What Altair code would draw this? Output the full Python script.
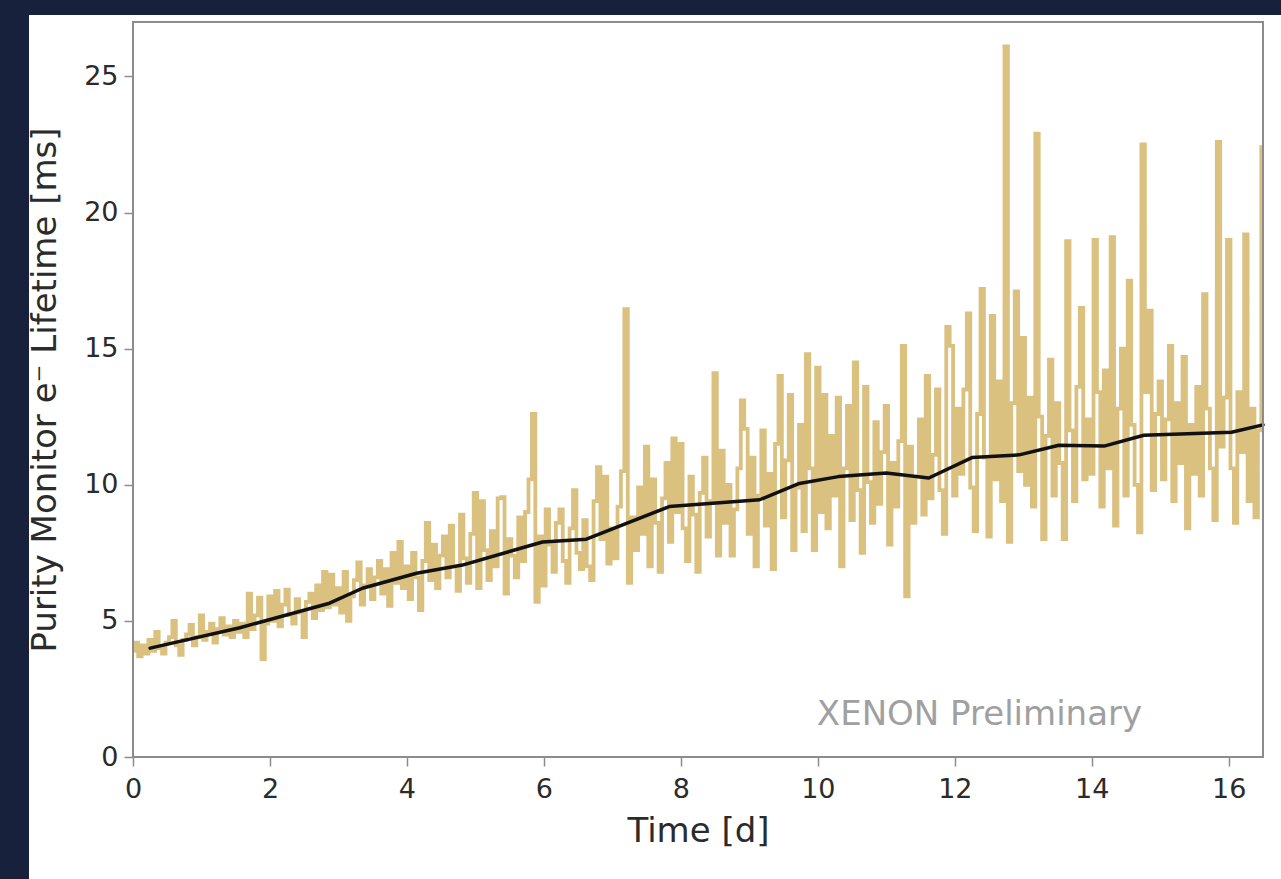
import altair as alt
import pandas as pd

# ---- data ----
# sampling offsets within each day (20 samples per day)
day_offsets = [0.00, 0.05, 0.10, 0.15, 0.20, 0.25, 0.30, 0.35, 0.40, 0.45,
               0.50, 0.55, 0.60, 0.65, 0.70, 0.75, 0.80, 0.85, 0.90, 0.95]

# purity monitor electron lifetime [ms], one row per day
lifetime_by_day = [
    [3.9, 4.2, 3.7, 4.1, 3.8, 4.3, 3.9, 4.6, 4.0, 3.8, 4.2, 4.4, 5.0, 4.1, 3.75, 4.3, 4.5, 4.85, 4.1, 4.4],
    [5.2, 4.3, 4.6, 4.9, 4.2, 4.7, 5.1, 4.5, 4.8, 4.4, 5.0, 4.6, 4.9, 4.4, 6.0, 4.7, 5.2, 5.85, 3.6, 4.9],
    [5.9, 5.0, 6.1, 4.8, 5.6, 6.15, 5.2, 4.9, 5.8, 5.3, 4.4, 5.7, 6.0, 5.1, 6.3, 5.4, 6.8, 5.5, 6.7, 5.6],
    [6.2, 5.3, 6.8, 5.0, 5.9, 6.5, 7.15, 5.6, 6.3, 6.9, 5.8, 6.6, 7.2, 6.0, 6.9, 5.55, 7.5, 6.4, 7.9, 6.2],
    [7.0, 5.8, 7.5, 6.6, 5.4, 7.2, 8.6, 6.5, 7.8, 6.2, 7.4, 8.1, 6.6, 8.5, 7.0, 6.1, 8.9, 7.3, 6.4, 8.2],
    [9.7, 6.2, 9.4, 7.6, 6.5, 8.3, 7.0, 9.5, 9.55, 6.0, 8.0, 7.4, 6.6, 8.8, 7.2, 9.0, 10.2, 12.6, 5.7, 8.1],
    [6.3, 9.1, 7.8, 6.8, 8.6, 9.1, 7.2, 6.4, 8.4, 9.8, 7.5, 6.9, 8.7, 7.0, 6.5, 9.4, 10.65, 8.0, 10.3, 7.1],
    [8.4, 7.3, 9.2, 10.5, 16.45, 6.4, 8.8, 7.6, 9.9, 8.2, 11.4, 7.0, 10.2, 8.6, 6.8, 9.5, 10.8, 7.9, 11.7, 9.0],
    [11.5, 8.4, 7.2, 10.3, 8.9, 6.8, 9.7, 11.0, 8.1, 9.4, 14.1, 7.4, 11.25, 8.6, 10.0, 7.4, 9.1, 10.6, 13.1, 12.05],
    [8.2, 11.0, 7.0, 9.6, 12.0, 8.5, 10.4, 6.9, 11.5, 14.0, 8.8, 10.9, 13.3, 7.6, 9.9, 12.2, 8.3, 14.8, 10.6, 7.6],
    [14.3, 9.0, 13.3, 8.4, 11.8, 9.6, 13.2, 7.0, 10.6, 12.9, 8.7, 14.5, 9.8, 7.5, 13.6, 10.1, 8.6, 12.3, 9.3, 11.2],
    [12.9, 7.8, 10.8, 9.2, 11.6, 15.1, 5.9, 11.4, 8.6, 10.3, 12.4, 8.9, 14.0, 9.5, 11.1, 13.5, 9.8, 8.2, 15.8, 15.1],
    [9.6, 12.8, 10.4, 13.5, 16.3, 9.9, 8.3, 12.6, 17.2, 11.0, 8.1, 16.2, 10.2, 13.8, 9.4, 26.1, 7.9, 13.0, 17.1, 10.5],
    [15.4, 10.0, 13.2, 9.2, 22.9, 12.5, 8.0, 11.8, 14.6, 9.6, 13.0, 10.8, 8.0, 18.95, 12.0, 9.4, 13.6, 16.5, 10.2, 12.4],
    [10.4, 19.0, 13.4, 9.2, 14.2, 10.6, 19.1, 8.5, 12.8, 15.0, 9.6, 17.5, 12.2, 10.0, 8.25, 22.5, 13.4, 16.4, 9.8, 12.6],
    [13.8, 10.2, 12.4, 15.1, 9.4, 13.0, 10.8, 14.7, 8.4, 12.2, 10.4, 13.6, 9.6, 17.0, 12.8, 10.6, 8.7, 22.6, 11.4, 13.2],
    [19.0, 10.6, 8.6, 13.4, 11.2, 19.2, 9.4, 12.8, 8.8, 12.0, 22.4],
]

# smoothed trend (black line)
trend_time = [0.25, 1.56, 2.87, 3.35, 4.14, 4.81, 5.98, 6.62, 7.83, 9.15, 9.73,
              10.3, 11.0, 11.62, 12.25, 12.94, 13.52, 14.18, 14.76, 16.04, 16.5]
trend_value = [4.0, 4.75, 5.65, 6.2, 6.75, 7.05, 7.9, 8.0, 9.2, 9.45, 10.05,
               10.3, 10.43, 10.25, 11.0, 11.1, 11.45, 11.42, 11.82, 11.93, 12.2]

x_ticks = [0, 2, 4, 6, 8, 10, 12, 14, 16]
y_ticks = [0, 5, 10, 15, 20, 25]
x_domain = [0, 16.5]
y_domain = [0, 27.0]

note_text = ["XENON Preliminary"]
note_time = [12.36]
note_value = [1.55]

# ---- tables ----
rows = []
for d, vals in enumerate(lifetime_by_day):
    for k, v in enumerate(vals):
        rows.append({"t": round(d + day_offsets[k], 3), "v": v})
raw = pd.DataFrame(rows)
trend = pd.DataFrame({"t": trend_time, "v": trend_value})
note = pd.DataFrame({"t": note_time, "v": note_value, "label": note_text})

W, H = 1130, 735
FONT = "DejaVu Sans"
AX_GREY = "#8c8c8c"
TXT = "#2b2b2b"

x_enc = alt.X("t:Q", scale=alt.Scale(domain=x_domain, nice=False, zero=False),
              axis=alt.Axis(values=x_ticks, format="d", title="Time [d]", grid=False, domain=False,
                            tickColor=AX_GREY, tickSize=9, tickWidth=1.5,
                            labelFontSize=27, titleFontSize=34, labelFont=FONT, titleFont=FONT,
                            labelColor=TXT, titleColor=TXT, titleFontWeight="normal",
                            labelPadding=10, titlePadding=12, labelFlush=False,
                            labelOverlap=False, zindex=1))
y_enc = alt.Y("v:Q", scale=alt.Scale(domain=y_domain, nice=False),
              axis=alt.Axis(values=y_ticks, format="d",
                            title="Purity Monitor e\u207b Lifetime [ms]",
                            grid=False, domain=False,
                            tickColor=AX_GREY, tickSize=9, tickWidth=1.5,
                            labelFontSize=27, titleFontSize=34, labelFont=FONT, titleFont=FONT,
                            labelColor=TXT, titleColor=TXT, titleFontWeight="normal",
                            labelPadding=6, titlePadding=21, labelOverlap=False, zindex=1))

panel = alt.Chart(pd.DataFrame({"a": [0]})).mark_rect(color="white").encode(
    x=alt.value(-104), x2=alt.value(W + 18), y=alt.value(-7), y2=alt.value(H + 122))

gold = alt.Chart(raw).mark_line(color="#dac180", strokeWidth=3.8, interpolate="step",
                                clip=True).encode(x=x_enc, y=y_enc)

black = alt.Chart(trend).mark_line(color="#111111", strokeWidth=3.5,
                                   strokeCap="round", strokeJoin="round").encode(x="t:Q", y="v:Q")

label = alt.Chart(note).mark_text(font=FONT, fontSize=34, color="#a0a0a0",
                                  align="center", baseline="middle").encode(
    x="t:Q", y="v:Q", text="label:N")

frame = alt.Chart(pd.DataFrame({"a": [0]})).mark_rect(
    fillOpacity=0, stroke=AX_GREY, strokeWidth=2).encode(
    x=alt.value(0), x2=alt.value(W), y=alt.value(0), y2=alt.value(H))

chart = alt.layer(panel, gold, black, label, frame).properties(
    width=W, height=H,
    padding={"left": 133, "top": 22, "right": 18, "bottom": 122},
    autosize=alt.AutoSizeParams(type="none"),
    background="#17213c",
).configure_view(strokeWidth=0)

chart.save("out.html", embed_options={"renderer": "svg", "actions": False})
